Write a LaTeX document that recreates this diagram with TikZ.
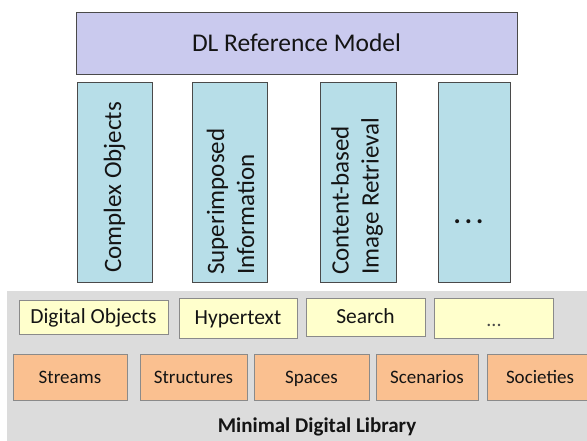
\documentclass[tikz,border=0pt]{standalone}
\usepackage{fontspec}
\setmainfont{Carlito}
\definecolor{refblue}{HTML}{CACAEE}
\definecolor{colcyan}{HTML}{B7DEE8}
\definecolor{svcyellow}{HTML}{FFFFCC}
\definecolor{coreorange}{HTML}{FAC090}
\definecolor{panelgray}{HTML}{DCDCDC}
\definecolor{edgedark}{HTML}{4A4A4A}
\definecolor{edgegray}{HTML}{8A8A8A}
\definecolor{inkdark}{HTML}{141414}
\tikzset{
  layerbox/.style={rectangle, inner sep=0pt, line width=0.9pt, text depth=0pt},
  topbox/.style={layerbox, draw=edgedark, fill=refblue, text=inkdark,
    text height=16.4pt, font=\fontsize{25.5}{30}\selectfont},
  colbox/.style={layerbox, draw=edgedark, fill=colcyan},
  coltext/.style={rotate=90, anchor=west, inner sep=0pt, align=left, text=inkdark,
    font=\fontsize{25}{30}\selectfont},
  svcbox/.style={layerbox, draw=edgegray, fill=svcyellow, text=inkdark,
    text height=13.8pt, font=\fontsize{21.5}{26}\selectfont},
  corebox/.style={layerbox, draw=edgegray, fill=coreorange, text=inkdark,
    text height=12.2pt, minimum height=46pt, font=\fontsize{19}{23}\selectfont},
}
\begin{document}
\begin{tikzpicture}[x=1pt,y=-1pt]
\useasboundingbox (0,0) rectangle (587,441);
\clip (0,0) rectangle (587,441);
\fill[white] (0,0) rectangle (587,441);

% minimal digital library panel
\fill[panelgray] (7,291) rectangle (592,445);
\node[font=\bfseries\fontsize{21}{25}\selectfont, text=inkdark, inner sep=0pt,
  text height=13.5pt, text depth=0pt] (mdl) at (317,426) {Minimal Digital Library};

% reference model
\node[topbox, minimum width=441pt, minimum height=62pt] (ref) at (296.5,43) {DL Reference Model};

% vertical service columns
\node[colbox, minimum width=75pt, minimum height=200pt] (c1) at (114.5,182) {};
\node[colbox, minimum width=75pt, minimum height=200pt] (c2) at (229.5,182) {};
\node[colbox, minimum width=76pt, minimum height=200pt] (c3) at (358,182) {};
\node[colbox, minimum width=72pt, minimum height=200pt] (c4) at (474,182) {};
\node[coltext] (t1) at (114.5,273) {Complex Objects};
\node[coltext] (t2) at (230.5,275) {Superimposed\\Information};
\node[coltext] (t3) at (357,275) {Content-based\\Image Retrieval};
\node[anchor=base, inner sep=0pt, text=inkdark, font=\bfseries\fontsize{27}{30}\selectfont]
  (t4) at (468.5,224) {.\hspace{4pt}.\hspace{4pt}.};

% higher-level services
\node[svcbox, minimum width=149pt, minimum height=34pt] (dobj) at (93.5,317) {Digital Objects};
\node[svcbox, minimum width=118pt, minimum height=40pt] (hyper) at (238,318) {Hypertext};
\node[svcbox, minimum width=119pt, minimum height=38pt] (search) at (365.5,317) {Search};
\node[svcbox, minimum width=119pt, minimum height=40pt] (more) at (493.5,318) {};
\node[anchor=base, inner sep=0pt, text=edgedark, font=\fontsize{20}{24}\selectfont] (moredots) at (494,326) {...};

% the five core concepts
\node[corebox, minimum width=114pt] (streams) at (70,377) {Streams};
\node[corebox, minimum width=107pt] (structs) at (193.5,377) {Structures};
\node[corebox, minimum width=115pt] (spaces) at (311.5,377) {Spaces};
\node[corebox, minimum width=102pt] (scen) at (427,377) {Scenarios};
\node[corebox, minimum width=106pt] (soc) at (540,377) {Societies};
\end{tikzpicture}
\end{document}
